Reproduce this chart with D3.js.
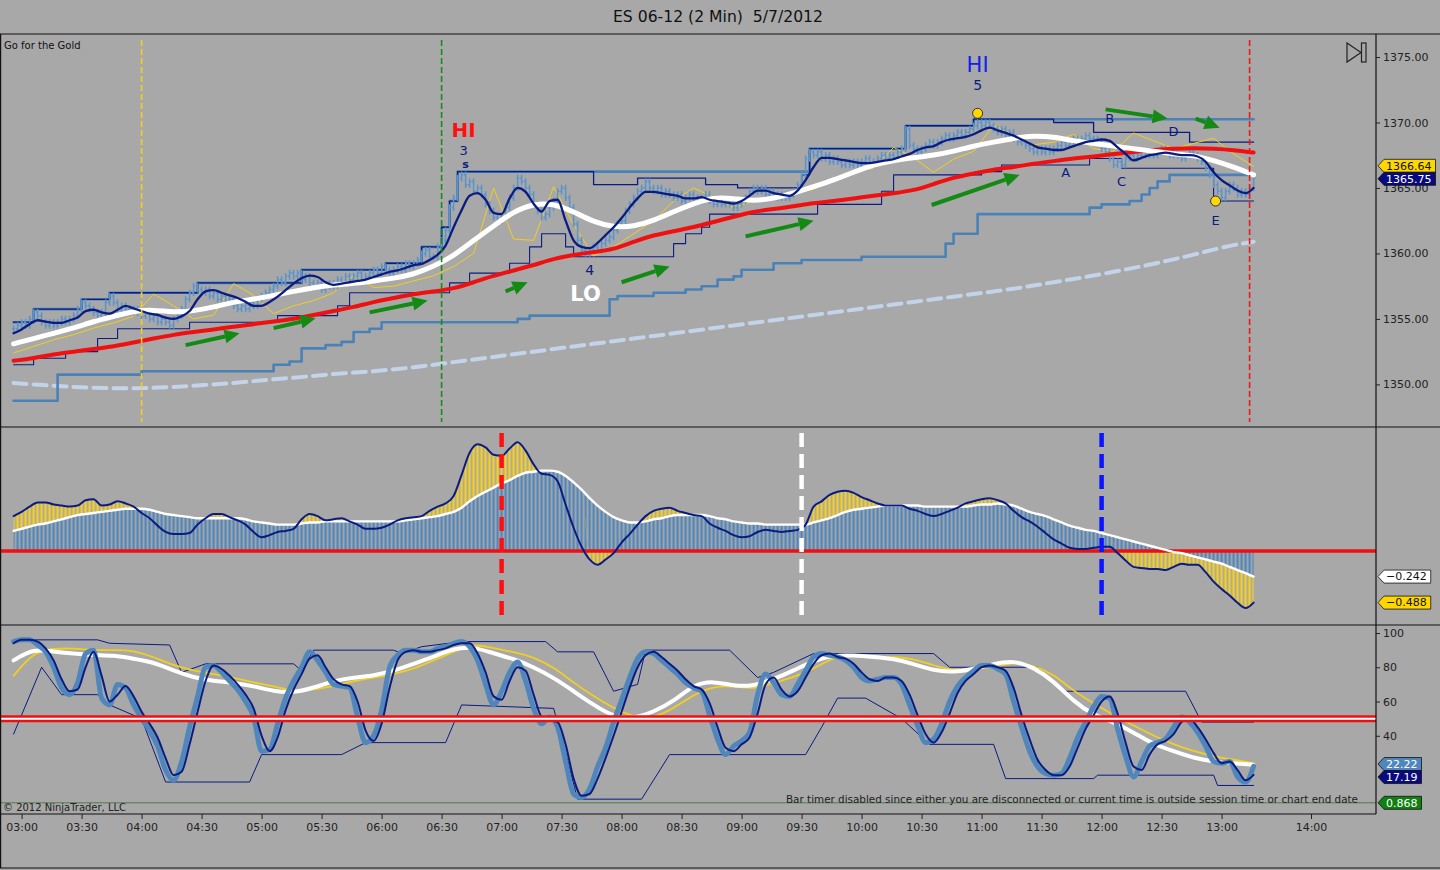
<!DOCTYPE html>
<html>
<head>
<meta charset="utf-8">
<script src="https://cdn.jsdelivr.net/npm/d3@7"></script>
<style>
  body { margin: 0; background: #a8a8a8; }
  svg { display: block; }
  text { font-family: "DejaVu Sans", sans-serif; }
</style>
</head>
<body>
<svg id="chart" width="1440" height="870"></svg>
<script>
// ---------- data ----------
// 2-minute closes from 02:56 to 13:16
const closes = [
  1354.25, 1354.5, 1354.75, 1354.5, 1355.0, 1355.5, 1355.25, 1354.75, 1354.5, 1354.75, 1354.5, 1354.75, 1355.0, 1354.75, 1355.0,
  1355.25, 1355.75, 1356.25, 1356.0, 1355.75, 1355.5, 1355.25, 1355.5, 1356.25, 1356.75, 1356.25, 1355.75, 1356.0, 1355.75, 1355.5,
  1355.75, 1355.5, 1355.25, 1355.5, 1355.0, 1355.25, 1354.75, 1355.0, 1354.75, 1354.5, 1355.0, 1355.25, 1355.75, 1356.5, 1357.0,
  1357.5, 1357.25, 1357.0, 1357.25, 1356.75, 1357.0, 1356.5, 1356.75, 1356.25, 1356.5, 1356.0, 1355.75, 1356.0, 1355.75, 1356.25,
  1356.0, 1356.5, 1356.75, 1357.0, 1357.25, 1357.5, 1358.0, 1357.75, 1358.25, 1358.5, 1358.25, 1358.5, 1358.0, 1358.25, 1357.75,
  1357.5, 1357.75, 1357.25, 1357.5, 1357.75, 1357.5, 1358.0, 1357.75, 1358.25, 1358.0, 1358.25, 1358.5, 1358.0, 1358.25, 1358.5,
  1358.75, 1358.5, 1359.0, 1358.75, 1358.5, 1358.75, 1359.0, 1358.75, 1359.25, 1359.0, 1359.25, 1359.5, 1360.0, 1360.25, 1359.75,
  1359.75, 1360.5, 1361.0, 1361.75, 1363.5, 1364.25, 1365.75, 1366.0, 1365.25, 1365.5, 1364.75, 1365.0, 1364.5, 1363.75, 1363.25,
  1362.75, 1362.5, 1362.75, 1363.5, 1364.25, 1365.0, 1365.75, 1365.5, 1365.0, 1364.5, 1363.75, 1363.25, 1362.75, 1363.0, 1363.5,
  1364.0, 1364.75, 1365.0, 1364.25, 1363.5, 1362.25, 1361.0, 1360.25, 1360.0, 1360.25, 1360.5, 1360.25, 1360.75, 1361.0, 1361.25,
  1361.75, 1362.25, 1362.5, 1363.25, 1363.75, 1364.25, 1364.75, 1365.0, 1365.5, 1365.0, 1364.75, 1365.0, 1364.5, 1364.75, 1364.5,
  1364.25, 1364.5, 1364.0, 1364.25, 1364.5, 1364.25, 1364.0, 1364.25, 1364.5, 1364.0, 1363.75, 1364.0, 1363.75, 1364.0, 1363.75,
  1363.5, 1363.75, 1364.0, 1364.25, 1364.75, 1365.0, 1364.75, 1365.0, 1364.5, 1364.75, 1364.5, 1364.25, 1364.5, 1364.25, 1364.5,
  1364.75, 1365.25, 1366.0, 1367.25, 1367.75, 1367.5, 1367.75, 1367.25, 1367.5, 1367.0, 1367.25, 1367.0, 1366.75, 1367.0, 1366.75,
  1367.0, 1366.75, 1367.0, 1367.25, 1366.75, 1367.0, 1367.25, 1367.5, 1367.25, 1367.5, 1367.25, 1367.75, 1368.0, 1369.5, 1368.25,
  1368.0, 1367.75, 1368.0, 1368.25, 1368.5, 1368.25, 1368.5, 1368.75, 1369.0, 1368.75, 1369.0, 1369.25, 1369.0, 1369.25, 1369.5,
  1369.75, 1370.0, 1369.75, 1370.0, 1369.75, 1369.5, 1369.25, 1369.5, 1369.0, 1369.25, 1368.75, 1368.5, 1368.75, 1368.25, 1368.0,
  1367.75, 1368.0, 1367.75, 1368.0, 1367.75, 1368.0, 1368.25, 1368.5, 1368.25, 1368.5, 1368.75, 1368.5, 1368.75, 1369.0, 1368.75,
  1368.75, 1368.5, 1368.0, 1367.75, 1367.25, 1366.75, 1367.0, 1366.75, 1367.25, 1367.5, 1367.25, 1367.5, 1367.75, 1367.5, 1367.75,
  1367.5, 1367.75, 1368.0, 1367.75, 1367.5, 1367.75, 1367.5, 1367.25, 1367.5, 1367.75, 1367.5, 1367.25, 1367.0, 1366.5, 1366.0,
  1365.25, 1364.75, 1364.25, 1364.75, 1365.25, 1365.0, 1364.5, 1364.75, 1364.5, 1365.0, 1365.75
];

// fast average, every 4 minutes from 02:56
const fastAvg = [
  1353.9, 1354.2, 1354.6, 1354.9, 1354.8, 1354.7, 1354.7, 1354.9, 1355.1, 1355.6,
  1355.7, 1355.5, 1355.4, 1355.7, 1356.0, 1355.8, 1355.6, 1355.4, 1355.3, 1355.1,
  1355.0, 1355.2, 1355.6, 1356.5, 1357.1, 1357.2, 1357.0, 1356.8, 1356.6, 1356.3,
  1356.0, 1356.0, 1356.3, 1356.7, 1357.2, 1357.7, 1358.1, 1358.3, 1358.2, 1357.8,
  1357.6, 1357.7, 1357.8, 1357.9, 1358.0, 1358.2, 1358.4, 1358.6, 1358.7, 1358.9,
  1359.1, 1359.2, 1359.5, 1359.9, 1360.6, 1362.0, 1363.3, 1364.4, 1364.6, 1364.1,
  1363.1, 1363.0, 1364.2, 1365.0, 1364.7, 1363.8, 1363.2, 1364.0, 1364.1, 1362.5,
  1361.0, 1360.5, 1360.4, 1360.8, 1361.4, 1362.0, 1362.7, 1363.5, 1364.2, 1364.7,
  1364.7, 1364.6, 1364.5, 1364.4, 1364.2, 1364.2, 1364.3, 1364.1, 1364.0, 1363.9,
  1363.8, 1364.0, 1364.4, 1364.8, 1364.8, 1364.6, 1364.5, 1364.4, 1364.8, 1365.6,
  1366.6, 1367.3, 1367.3, 1367.2, 1367.1, 1367.0, 1366.9, 1366.9, 1367.0, 1367.1,
  1367.2, 1367.4, 1367.6, 1367.9, 1368.1, 1368.2, 1368.5, 1368.7, 1368.8, 1368.9,
  1369.1, 1369.4, 1369.6, 1369.4, 1369.2, 1369.0, 1368.7, 1368.4, 1368.1, 1368.0,
  1367.9, 1367.9, 1368.1, 1368.3, 1368.5, 1368.6, 1368.7, 1368.6, 1368.1, 1367.6,
  1367.1, 1367.3, 1367.5, 1367.6, 1367.7, 1367.6, 1367.5, 1367.5, 1367.4, 1367.0,
  1366.2, 1365.6, 1365.2, 1364.8, 1364.6, 1365.0
];

// slower averages, every 10 minutes from 02:56
const whiteAvg = [
  1353.1, 1353.5, 1353.9, 1354.3, 1354.8, 1355.2, 1355.6, 1355.7, 1355.5, 1355.6,
  1355.9, 1356.3, 1356.5, 1356.8, 1357.1, 1357.4, 1357.6, 1357.7, 1357.9, 1358.1,
  1358.4, 1359.0, 1359.8, 1361.0, 1362.1, 1363.2, 1363.8, 1363.8, 1363.2, 1362.4,
  1362.0, 1362.05, 1362.5, 1363.2, 1363.8, 1364.3, 1364.2, 1364.0, 1364.2, 1364.6,
  1365.1, 1365.6, 1366.2, 1366.8, 1367.1, 1367.3, 1367.5, 1367.8, 1368.2, 1368.5,
  1368.8, 1369.0, 1368.9, 1368.6, 1368.4, 1368.2, 1368.0, 1367.8, 1367.6, 1367.5,
  1367.1, 1366.6, 1366.0
];
const redAvg = [
  1351.8, 1352.0, 1352.3, 1352.5, 1352.7, 1352.9, 1353.2, 1353.5, 1353.8, 1354.0,
  1354.2, 1354.4, 1354.6, 1354.8, 1355.0, 1355.3, 1355.6, 1355.9, 1356.3, 1356.6,
  1356.9, 1357.1, 1357.3, 1357.8, 1358.3, 1358.7, 1359.1, 1359.6, 1359.9, 1360.1,
  1360.3, 1360.9, 1361.4, 1361.7, 1362.0, 1362.4, 1362.8, 1363.2, 1363.4, 1363.6,
  1363.85, 1364.0, 1364.2, 1364.4, 1364.6, 1364.8, 1365.3, 1365.8, 1366.1, 1366.4,
  1366.6, 1366.85, 1367.05, 1367.25, 1367.4, 1367.6, 1367.75, 1367.9, 1368.0, 1368.05,
  1368.0, 1367.9, 1367.7
];
const slowAvg = [
  1350.1, 1350.0, 1349.9, 1349.8, 1349.75, 1349.7, 1349.7, 1349.75, 1349.8, 1349.9,
  1350.0, 1350.1, 1350.25, 1350.4, 1350.5, 1350.65, 1350.8, 1350.9, 1351.0, 1351.15,
  1351.3, 1351.5, 1351.7, 1351.9, 1352.1, 1352.3, 1352.5, 1352.7, 1352.9, 1353.1,
  1353.3, 1353.5, 1353.7, 1353.9, 1354.1, 1354.3, 1354.5, 1354.7, 1354.9, 1355.1,
  1355.3, 1355.5, 1355.7, 1355.9, 1356.1, 1356.3, 1356.5, 1356.7, 1356.9, 1357.1,
  1357.3, 1357.55, 1357.8, 1358.05, 1358.3, 1358.6, 1358.9, 1359.2, 1359.55, 1359.9,
  1360.3, 1360.65, 1360.9
];
const yellowTrail = [
  1352.4, 1352.9, 1353.4, 1353.8, 1354.3, 1354.7, 1355.2, 1356.9, 1356.0, 1355.0,
  1355.3, 1357.7, 1356.8, 1355.4, 1356.0, 1356.4, 1357.0, 1358.3, 1357.4, 1357.5,
  1357.9, 1358.3, 1359.0, 1360.0, 1365.0, 1361.1, 1361.0, 1365.1, 1362.2, 1359.8,
  1360.5, 1361.5, 1362.5, 1364.0, 1365.0, 1364.3, 1363.5, 1364.0, 1364.3, 1364.6,
  1364.9, 1365.6, 1366.3, 1366.5, 1368.1, 1367.3, 1366.2, 1367.2, 1367.8, 1369.8,
  1369.0, 1368.3, 1368.5, 1369.1, 1368.0, 1367.8, 1369.2, 1368.6, 1368.0, 1368.4,
  1368.8, 1367.6, 1366.64
];

// channel levels: [time, price] change points
const upperLong = [["02:56",1354.75],["03:06",1355.75],["03:30",1356.5],["03:44",1357.0],["04:28",1357.75],["05:20",1358.75],["06:02",1359.25],["06:20",1360.5],["06:30",1362.0],["06:34",1364.0],["06:38",1366.25],["09:34",1368.0],["10:22",1369.75],["10:56",1370.25],["13:16",1370.25]];
const upperShort = [["02:56",1354.75],["03:06",1355.75],["03:30",1356.5],["03:44",1357.0],["04:28",1357.75],["05:20",1358.75],["06:02",1359.25],["06:20",1360.5],["06:30",1362.0],["06:34",1364.0],["06:38",1366.25],["07:46",1365.25],["08:08",1365.75],["08:42",1365.25],["08:58",1365.0],["09:30",1366.0],["09:34",1368.0],["10:22",1369.75],["10:56",1370.25],["11:36",1370.0],["11:56",1369.25],["12:44",1368.5],["13:16",1368.5]];
const lowerShort = [["02:56",1351.5],["03:06",1352.0],["03:22",1352.5],["03:38",1353.5],["03:48",1354.25],["04:24",1354.75],["05:08",1355.25],["05:38",1356.0],["05:44",1357.0],["06:34",1357.75],["06:44",1358.5],["07:04",1359.25],["07:14",1360.5],["07:20",1361.5],["07:32",1360.5],["07:36",1359.75],["08:26",1360.75],["08:32",1361.5],["08:40",1362.0],["08:44",1363.0],["09:38",1363.75],["10:10",1364.75],["10:16",1366.0],["11:00",1366.25],["11:10",1366.75],["11:54",1367.25],["12:10",1366.5],["12:56",1364.0],["13:16",1364.0]];
const lowerLong = [["02:56",1348.75],["03:14",1348.75],["03:18",1350.75],["04:00",1351.0],["05:06",1351.5],["05:14",1351.75],["05:20",1352.75],["05:32",1353.0],["05:40",1353.25],["05:46",1354.0],["05:54",1354.25],["06:00",1354.75],["07:08",1355.0],["07:14",1355.25],["07:54",1356.5],["07:58",1356.75],["08:16",1357.0],["08:32",1357.25],["08:40",1357.5],["08:48",1358.0],["08:56",1358.25],["09:00",1358.75],["09:16",1359.25],["09:30",1359.5],["10:00",1359.75],["10:42",1360.75],["10:46",1361.5],["10:58",1363.0],["11:54",1363.5],["12:00",1363.75],["12:14",1364.0],["12:20",1364.5],["12:24",1365.0],["12:28",1365.5],["12:34",1366.0],["13:16",1366.0]];

// oscillator 1, every 4 minutes from 02:56
const macdLine = [
  0.33, 0.37, 0.42, 0.46, 0.46, 0.44, 0.43, 0.42, 0.43, 0.48,
  0.49, 0.43, 0.44, 0.47, 0.45, 0.42, 0.36, 0.31, 0.24, 0.18,
  0.16, 0.16, 0.17, 0.25, 0.31, 0.35, 0.35, 0.32, 0.29, 0.25,
  0.18, 0.13, 0.15, 0.18, 0.19, 0.21, 0.30, 0.35, 0.33, 0.29,
  0.30, 0.31, 0.28, 0.25, 0.21, 0.21, 0.22, 0.25, 0.29, 0.31,
  0.32, 0.33, 0.38, 0.42, 0.45, 0.52, 0.72, 0.93, 1.01, 0.98,
  0.91, 0.90, 0.97, 1.03, 0.95, 0.82, 0.73, 0.72, 0.66, 0.44,
  0.22, 0.04, -0.08, -0.13, -0.08, -0.02, 0.08, 0.16, 0.25, 0.33,
  0.38, 0.40, 0.41, 0.38, 0.36, 0.34, 0.33, 0.26, 0.22, 0.19,
  0.15, 0.13, 0.14, 0.18, 0.20, 0.19, 0.18, 0.19, 0.20, 0.25,
  0.42, 0.47, 0.53, 0.56, 0.57, 0.55, 0.51, 0.48, 0.45, 0.43,
  0.43, 0.43, 0.40, 0.38, 0.35, 0.33, 0.35, 0.38, 0.41, 0.45,
  0.47, 0.49, 0.50, 0.48, 0.45, 0.38, 0.32, 0.28, 0.23, 0.17,
  0.11, 0.07, 0.03, 0.02, 0.02, 0.03, 0.04, 0.04, -0.02, -0.09,
  -0.15, -0.16, -0.17, -0.17, -0.18, -0.15, -0.12, -0.13, -0.13, -0.20,
  -0.29, -0.36, -0.42, -0.49, -0.54, -0.488
];
const macdSignal = [
  0.19, 0.21, 0.23, 0.25, 0.26, 0.28, 0.30, 0.32, 0.34, 0.35,
  0.36, 0.37, 0.38, 0.39, 0.40, 0.40, 0.40, 0.39, 0.37, 0.35,
  0.34, 0.33, 0.32, 0.31, 0.31, 0.31, 0.31, 0.31, 0.31, 0.30,
  0.28, 0.27, 0.26, 0.25, 0.25, 0.25, 0.26, 0.27, 0.27, 0.28,
  0.28, 0.28, 0.28, 0.28, 0.28, 0.28, 0.28, 0.28, 0.28, 0.29,
  0.30, 0.31, 0.32, 0.33, 0.35, 0.37, 0.41, 0.47, 0.52, 0.56,
  0.60, 0.64, 0.67, 0.71, 0.74, 0.75, 0.76, 0.76, 0.75, 0.71,
  0.65, 0.58, 0.50, 0.43, 0.37, 0.32, 0.29, 0.27, 0.27, 0.28,
  0.30, 0.31, 0.33, 0.34, 0.34, 0.34, 0.34, 0.33, 0.31, 0.30,
  0.28, 0.27, 0.26, 0.26, 0.25, 0.25, 0.25, 0.25, 0.25, 0.25,
  0.27, 0.29, 0.31, 0.34, 0.37, 0.39, 0.40, 0.41, 0.42, 0.43,
  0.43, 0.43, 0.43, 0.43, 0.42, 0.42, 0.42, 0.42, 0.42, 0.42,
  0.43, 0.44, 0.44, 0.45, 0.44, 0.43, 0.40, 0.37, 0.35, 0.33,
  0.30, 0.27, 0.24, 0.22, 0.20, 0.19, 0.17, 0.15, 0.13, 0.11,
  0.09, 0.07, 0.05, 0.03, 0.01, -0.01, -0.02, -0.04, -0.06, -0.08,
  -0.10, -0.12, -0.15, -0.18, -0.21, -0.242
];

// oscillator 2, every 4 minutes from 02:56
const stochK = [
  95, 96, 96, 93, 89, 80, 68, 64, 71, 88,
  90, 62, 58, 70, 68, 58, 50, 43, 34, 20,
  14, 25, 45, 63, 80, 81, 77, 72, 67, 60,
  51, 31, 32, 47, 62, 72, 80, 89, 84, 77,
  70, 69, 68, 51, 36, 40, 55, 80, 87, 90,
  90, 89, 89, 91, 92, 94, 95, 92, 84, 70,
  58, 66, 77, 83, 72, 56, 47, 51, 45, 25,
  6, 4, 9, 22, 33, 48, 61, 74, 85, 89,
  88, 84, 80, 76, 71, 68, 66, 52, 38, 29,
  34, 37, 42, 64, 76, 71, 64, 63, 70, 78,
  86, 88, 87, 86, 84, 80, 74, 72, 73, 74,
  74, 70, 58, 46, 36, 38, 47, 60, 69, 74,
  78, 81, 81, 79, 76, 60, 45, 31, 22, 18,
  17, 18, 27, 39, 48, 57, 63, 62, 44, 28,
  16, 25, 34, 36, 38, 45, 51, 48, 42, 34,
  25, 24, 25, 16, 13, 22.22
];
const stochD = [
  94, 96, 96, 95, 91, 84, 73, 66, 67, 80,
  89, 75, 60, 64, 69, 63, 54, 47, 39, 27,
  17, 19, 35, 54, 72, 81, 79, 75, 70, 64,
  56, 40, 31, 39, 55, 67, 76, 85, 87, 80,
  73, 70, 69, 60, 43, 37, 47, 68, 84, 89,
  90, 89, 89, 90, 91, 93, 94, 94, 88, 77,
  63, 61, 72, 80, 78, 64, 51, 49, 48, 35,
  15, 5, 6, 15, 27, 40, 54, 68, 80, 87,
  89, 86, 82, 78, 73, 69, 67, 59, 45, 33,
  31, 35, 39, 53, 70, 74, 67, 63, 66, 74,
  82, 87, 88, 86, 85, 82, 77, 73, 72, 74,
  74, 72, 64, 52, 41, 36, 42, 53, 65, 72,
  76, 80, 81, 80, 78, 68, 52, 38, 26, 20,
  17, 17, 22, 33, 44, 52, 60, 63, 53, 36,
  22, 20, 29, 35, 37, 41, 48, 50, 45, 38,
  30, 24, 25, 20, 14, 17.19
];
// every 10 minutes from 02:56
const stochSlow = [
  84, 91, 89, 88, 87, 87, 85, 83, 78, 74,
  72, 71, 69, 66, 65, 68, 72, 74, 75, 78,
  82, 86, 91, 92, 88, 85, 80, 74, 66, 58,
  51, 50, 54, 60, 70, 72, 69, 69, 73, 78,
  84, 87, 87, 86, 85, 82, 78, 77, 79, 82,
  84, 80, 72, 60, 52, 48, 42, 35, 31, 27,
  25, 24, 23
];
const stochSlower = [
  75, 89, 91, 91, 90, 90, 90, 86, 81, 78,
  76, 74, 71, 69, 66, 67, 69, 72, 74, 76,
  79, 84, 89, 94, 91, 89, 86, 80, 71, 63,
  56, 51, 50, 56, 64, 69, 69, 67, 71, 74,
  79, 86, 87, 86, 86, 85, 81, 78, 79, 80,
  83, 81, 76, 66, 59, 52, 46, 40, 35, 31,
  28, 26, 24
];
const stochUpper = [["02:56",96],["03:38",96],["03:44",94],["04:14",93],["04:20",77],["04:32",82],["05:16",82],["05:20",78],["05:26",90],["06:06",90],["06:10",88],["06:20",92],["06:40",95],["07:22",95],["07:28",89],["07:46",89],["07:56",66],["08:08",70],["08:12",90],["08:54",90],["09:08",74],["09:16",77],["09:36",88],["10:36",88],["10:44",80],["11:28",80],["11:40",66],["12:42",66],["12:50",48],["13:16",48]];
const stochLower = [["02:56",41],["03:10",80],["03:20",64],["03:38",64],["03:44",58],["04:00",50],["04:12",13],["04:54",13],["05:00",29],["05:40",29],["05:52",36],["06:32",36],["06:40",58],["07:26",56],["07:32",30],["07:38",3],["08:10",3],["08:24",29],["09:32",29],["09:40",45],["09:48",62],["10:02",62],["10:20",50],["10:34",35],["11:06",35],["11:12",15],["11:56",15],["11:58",17],["12:56",17],["12:58",11],["13:16",11]];
const stochFloor = 0.868;

const priceTicks = [1350, 1355, 1360, 1365, 1370, 1375];
const stochTicks = [40, 60, 80, 100];
const timeTicks = ["03:00","03:30","04:00","04:30","05:00","05:30","06:00","06:30","07:00","07:30","08:00","08:30","09:00","09:30","10:00","10:30","11:00","11:30","12:00","12:30","13:00","14:00"];

const arrows = [
  ["04:22",1353.0,"04:49",1353.9], ["05:06",1354.3,"05:27",1355.05], ["05:54",1355.5,"06:23",1356.4],
  ["07:02",1357.1,"07:13",1357.8], ["08:00",1357.8,"08:24",1359.0], ["09:02",1361.3,"09:36",1362.5],
  ["10:35",1363.7,"11:19",1366.0], ["12:02",1371.0,"12:33",1370.3], ["12:47",1370.3,"12:59",1369.6]
];
const labels = [
  ["06:41",1369.45,"HI","#ff1010",20,"bold"], ["06:41",1367.85,"3","#0b1b80",13,"normal"], ["06:42",1366.8,"s","#0b1b80",11,"bold"],
  ["07:44",1358.7,"4","#0b1b80",14,"normal"], ["07:42",1356.9,"LO","#ffffff",21,"bold"],
  ["10:58",1374.4,"HI","#1020ee",21,"normal"], ["10:58",1372.9,"5","#0b1b80",14,"normal"],
  ["11:42",1366.2,"A","#0b1b80",13,"normal"], ["12:04",1370.3,"B","#0b1b80",13,"normal"],
  ["12:10",1365.5,"C","#0b1b80",13,"normal"], ["12:36",1369.3,"D","#0b1b80",13,"normal"],
  ["12:57",1362.5,"E","#0b1b80",13,"normal"]
];
const pivots = [["10:58",1370.7], ["12:57",1364.0]];
const mainMarks = [["04:00","#f2cf1e"], ["06:30","#1a8a1a"], ["13:14","#f01818"]];
const oscMarks = [["07:00","#ff1010"], ["09:30","#ffffff"], ["12:00","#0a14ff"]];

// ---------- helpers ----------
const parseT = d3.timeParse("%H:%M");
const barStart = parseT("02:56");
const after = (m) => new Date(barStart.getTime() + m * 60000);
const seq = (vals, step) => vals.map((v, i) => ({ t: after(i * step), v }));
const pts = (pairs) => pairs.map(([s, v]) => ({ t: parseT(s), v }));

const navy = "#0b1b80", steel = "#4a82b8", gold = "#f2cf1e";

const svg = d3.select("#chart");
svg.append("rect").attr("width", 1440).attr("height", 870).attr("fill", "#a8a8a8");

const x = d3.scaleTime()
  .domain([parseT("03:00"), parseT("13:16"), parseT("14:00")])
  .range([21.6, 1253.6, 1311]);
const yMain = d3.scaleLinear().domain([1350, 1375]).range([384.4, 57]);
const yOsc = d3.scaleLinear().domain([-0.5, 1.0]).range([603.85, 445.3]);
const yStoch = d3.scaleLinear().domain([0, 100]).range([804.3, 633]);

const defs = svg.append("defs");
function clip(id, y0, y1) {
  defs.append("clipPath").attr("id", id).append("rect")
    .attr("x", 1).attr("y", y0).attr("width", 1375).attr("height", y1 - y0);
  return svg.append("g").attr("clip-path", `url(#${id})`);
}

function lineOf(y, curve) {
  return d3.line().x(d => x(d.t)).y(d => y(d.v)).curve(curve || d3.curveLinear);
}
function drawLine(g, data, y, color, width, curve, dash) {
  g.append("path").datum(data)
    .attr("d", lineOf(y, curve))
    .attr("fill", "none").attr("stroke", color).attr("stroke-width", width)
    .attr("stroke-linejoin", "round").attr("stroke-linecap", "round")
    .attr("stroke-dasharray", dash || null);
}

// ---------- title ----------
svg.append("text").attr("x", 613).attr("y", 22)
  .attr("font-size", 15).attr("fill", "#111").style("white-space", "pre")
  .attr("textLength", 210).attr("lengthAdjust", "spacingAndGlyphs")
  .text("ES 06-12 (2 Min)  5/7/2012");

// ---------- main panel ----------
const gMain = clip("clipMain", 35, 427);

drawLine(gMain, seq(slowAvg, 10), yMain, "#c3d3ea", 4, d3.curveBasis, "13,7");
drawLine(gMain, pts(lowerLong), yMain, steel, 2.6, d3.curveStepAfter);
drawLine(gMain, pts(upperLong), yMain, steel, 2.6, d3.curveStepAfter);
drawLine(gMain, pts(upperShort), yMain, navy, 1.3, d3.curveStepAfter);
drawLine(gMain, pts(lowerShort), yMain, navy, 1.1, d3.curveStepAfter);
drawLine(gMain, seq(yellowTrail, 10), yMain, gold, 1, d3.curveLinear);

const bars = closes.map((c, j) => {
  const o = j ? closes[j - 1] : c;
  return { t: after(2 * j), o, c, h: Math.max(o, c) + 0.25, l: Math.min(o, c) - 0.25 };
});
gMain.append("g").selectAll("path").data(bars).join("path")
  .attr("d", d => {
    const bx = x(d.t);
    return `M${bx},${yMain(d.l)}V${yMain(d.h)}M${bx - 1.7},${yMain(d.o)}H${bx}M${bx},${yMain(d.c)}H${bx + 1.7}`;
  })
  .attr("fill", "none").attr("stroke", "#5b93cc").attr("stroke-width", 1.5);

drawLine(gMain, seq(redAvg, 10), yMain, "#f01010", 4, d3.curveBasis);
drawLine(gMain, seq(whiteAvg, 10), yMain, "#ffffff", 5, d3.curveBasis);
drawLine(gMain, seq(fastAvg, 4), yMain, navy, 2.3, d3.curveMonotoneX);

// arrows
arrows.forEach(([t0, p0, t1, p1]) => {
  const x0 = x(parseT(t0)), y0 = yMain(p0), x1 = x(parseT(t1)), y1 = yMain(p1);
  const a = Math.atan2(y1 - y0, x1 - x0), L = 15, Wd = 7;
  const bx = x1 - L * Math.cos(a), by = y1 - L * Math.sin(a);
  gMain.append("line").attr("x1", x0).attr("y1", y0).attr("x2", bx).attr("y2", by)
    .attr("stroke", "#138a13").attr("stroke-width", 4);
  gMain.append("path")
    .attr("d", `M${x1},${y1}L${bx + Wd * Math.sin(a)},${by - Wd * Math.cos(a)}L${bx - Wd * Math.sin(a)},${by + Wd * Math.cos(a)}Z`)
    .attr("fill", "#138a13");
});

// vertical markers
mainMarks.forEach(([t, c]) => {
  gMain.append("line").attr("x1", x(parseT(t))).attr("x2", x(parseT(t)))
    .attr("y1", 40).attr("y2", 422).attr("stroke", c).attr("stroke-width", 1.6)
    .attr("stroke-dasharray", "6,3");
});

labels.forEach(([t, p, txt, c, fs, fw]) => {
  gMain.append("text").attr("x", x(parseT(t))).attr("y", yMain(p))
    .attr("text-anchor", "middle").attr("dominant-baseline", "central")
    .attr("font-size", fs).attr("font-weight", fw).attr("fill", c).text(txt);
});
pivots.forEach(([t, p]) => {
  gMain.append("circle").attr("cx", x(parseT(t))).attr("cy", yMain(p)).attr("r", 5)
    .attr("fill", "#ffd800").attr("stroke", "#333").attr("stroke-width", 1);
});

svg.append("text").attr("x", 4).attr("y", 49).attr("font-size", 10).attr("fill", "#111")
  .text("Go for the Gold");

// end-of-chart icon
svg.append("path").attr("d", "M1347,43L1361,52.5L1347,62Z").attr("fill", "none").attr("stroke", "#222").attr("stroke-width", 1.2);
svg.append("rect").attr("x", 1361.5).attr("y", 43).attr("width", 4.5).attr("height", 19)
  .attr("fill", "none").attr("stroke", "#222").attr("stroke-width", 1.2);

// ---------- oscillator panel ----------
const gOsc = clip("clipOsc", 428, 625);
const bw = x(after(2)) - x(after(0));
function stripes(id, color) {
  const p = defs.append("pattern").attr("id", id).attr("patternUnits", "userSpaceOnUse")
    .attr("x", x(after(0)) - 1.1).attr("y", 0).attr("width", bw).attr("height", 870);
  p.append("rect").attr("width", 2.2).attr("height", 870).attr("fill", color);
}
stripes("stripeSteel", "#4f87bd");
stripes("stripeGold", "#f5d01f");

const oscData = macdLine.map((m, i) => {
  const s = macdSignal[i];
  let a = s, b = s;
  if (s >= 0) { if (m > s) { a = s; b = m; } else if (m < 0) { a = 0; b = m; } }
  else { if (m < s) { a = s; b = m; } else if (m > 0) { a = 0; b = m; } }
  return { t: after(4 * i), m, s, a, b };
});
gOsc.append("path").datum(oscData)
  .attr("d", d3.area().x(d => x(d.t)).y0(yOsc(0)).y1(d => yOsc(d.s)).curve(d3.curveMonotoneX))
  .attr("fill", "url(#stripeSteel)");
gOsc.append("path").datum(oscData)
  .attr("d", d3.area().x(d => x(d.t)).y0(d => yOsc(d.a)).y1(d => yOsc(d.b)).curve(d3.curveMonotoneX))
  .attr("fill", "url(#stripeGold)");
gOsc.append("line").attr("x1", 0).attr("x2", 1376).attr("y1", yOsc(0)).attr("y2", yOsc(0))
  .attr("stroke", "#f01010").attr("stroke-width", 3.5);
drawLine(gOsc, seq(macdSignal, 4), yOsc, "#ffffff", 2.4, d3.curveMonotoneX);
drawLine(gOsc, seq(macdLine, 4), yOsc, navy, 2, d3.curveMonotoneX);
oscMarks.forEach(([t, c]) => {
  gOsc.append("line").attr("x1", x(parseT(t))).attr("x2", x(parseT(t)))
    .attr("y1", 433).attr("y2", 619).attr("stroke", c).attr("stroke-width", 4.5)
    .attr("stroke-dasharray", "14,7");
});

// ---------- stochastic panel ----------
const gSto = clip("clipSto", 626, 814);
gSto.append("line").attr("x1", 0).attr("x2", 1376).attr("y1", yStoch(stochFloor)).attr("y2", yStoch(stochFloor))
  .attr("stroke", "#4d7d4d").attr("stroke-width", 1);
drawLine(gSto, pts(stochUpper), yStoch, navy, 1, d3.curveLinear);
drawLine(gSto, pts(stochLower), yStoch, navy, 1, d3.curveLinear);
drawLine(gSto, seq(stochSlower, 10), yStoch, gold, 1.8, d3.curveBasis);
drawLine(gSto, seq(stochSlow, 10), yStoch, "#ffffff", 4, d3.curveBasis);
drawLine(gSto, seq(stochK, 4), yStoch, "#4f87bd", 5, d3.curveMonotoneX);
drawLine(gSto, seq(stochD, 4), yStoch, navy, 2, d3.curveMonotoneX);
gSto.append("line").attr("x1", 0).attr("x2", 1376).attr("y1", yStoch(50)).attr("y2", yStoch(50))
  .attr("stroke", "#f01010").attr("stroke-width", 7);
gSto.append("line").attr("x1", 0).attr("x2", 1376).attr("y1", yStoch(50)).attr("y2", yStoch(50))
  .attr("stroke", "#ffffff").attr("stroke-width", 2);

svg.append("text").attr("x", 3).attr("y", 811).attr("font-size", 10).attr("fill", "#222")
  .attr("textLength", 123).attr("lengthAdjust", "spacingAndGlyphs").text("© 2012 NinjaTrader, LLC");
svg.append("text").attr("x", 786).attr("y", 803).attr("font-size", 10).attr("fill", "#222")
  .attr("textLength", 572).attr("lengthAdjust", "spacingAndGlyphs")
  .text("Bar timer disabled since either you are disconnected or current time is outside session time or chart end date");

// ---------- frame ----------
const frame = svg.append("g").attr("stroke", "#111").attr("stroke-width", 1.2);
[[0, 34, 1440, 34], [0, 427, 1440, 427], [0, 625, 1440, 625], [0, 814, 1376, 814],
 [1376, 34, 1376, 814], [0.6, 34, 0.6, 868], [0, 868, 1440, 868]]
  .forEach(([a, b, c, d]) => frame.append("line").attr("x1", a).attr("y1", b).attr("x2", c).attr("y2", d));

// ---------- axes ----------
function styleAxis(g) {
  g.select(".domain").remove();
  g.selectAll("line").attr("stroke", "#222");
  g.selectAll("text").attr("fill", "#222").attr("font-size", 11)
    .attr("font-family", "\"DejaVu Sans\", sans-serif");
}
svg.append("g").attr("transform", "translate(1376,0)")
  .call(d3.axisRight(yMain).tickValues(priceTicks).tickFormat(d3.format(".2f")).tickSize(4).tickPadding(3))
  .call(styleAxis);
svg.append("g").attr("transform", "translate(1376,0)")
  .call(d3.axisRight(yStoch).tickValues(stochTicks).tickSize(4).tickPadding(3))
  .call(styleAxis);
svg.append("g").attr("transform", "translate(0,814)")
  .call(d3.axisBottom(x).tickValues(timeTicks.map(parseT)).tickFormat(d3.timeFormat("%H:%M")).tickSize(5).tickPadding(4))
  .call(styleAxis);

// ---------- value markers ----------
const fmt2 = d3.format(".2f"), fmt3 = d3.format(".3f");
const markerGroups = [
  [
    { y: yMain(yellowTrail.at(-1)), txt: fmt2(yellowTrail.at(-1)), fill: "#ffd700", tc: "#111" },
    { y: yMain(closes.at(-1)), txt: fmt2(closes.at(-1)), fill: "#0a0a80", tc: "#ffffff" }
  ],
  [
    { y: yOsc(macdSignal.at(-1)), txt: fmt3(macdSignal.at(-1)), fill: "#ffffff", tc: "#111" },
    { y: yOsc(macdLine.at(-1)), txt: fmt3(macdLine.at(-1)), fill: "#ffd700", tc: "#111" }
  ],
  [
    { y: yStoch(stochK.at(-1)), txt: fmt2(stochK.at(-1)), fill: "#4f87bd", tc: "#ffffff" },
    { y: yStoch(stochD.at(-1)), txt: fmt2(stochD.at(-1)), fill: "#0a0a80", tc: "#ffffff" },
    { y: yStoch(stochFloor), txt: fmt3(stochFloor), fill: "#108010", tc: "#ffffff" }
  ]
];
const boxH = 13;
markerGroups.forEach(group => {
  group.sort((a, b) => a.y - b.y);
  // spread overlapping boxes apart around their values
  for (let i = 1; i < group.length; i++) {
    const gap = group[i].y - group[i - 1].y;
    if (gap < boxH) {
      const push = (boxH - gap) / 2;
      group[i - 1].y -= push;
      group[i].y += push;
    }
  }
  group.forEach(m => {
    const g = svg.append("g");
    const t = g.append("text").attr("x", 1386).attr("y", m.y + 3.9).attr("font-size", 11)
      .attr("fill", m.tc).text(m.txt);
    const w = t.node().getComputedTextLength() + 6;
    g.insert("path", "text")
      .attr("d", `M1378,${m.y}L1384,${m.y - boxH / 2}H${1384 + w}V${m.y + boxH / 2}H1384Z`)
      .attr("fill", m.fill).attr("stroke", "#111").attr("stroke-width", 0.8);
  });
});
</script>
</body>
</html>
